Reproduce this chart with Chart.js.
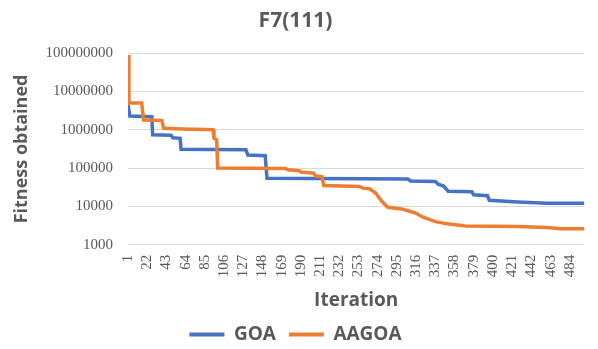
<!DOCTYPE html>
<html>
<head>
<meta charset="utf-8">
<script src="https://cdn.jsdelivr.net/npm/chart.js@4"></script>
<style>
  html, body { margin: 0; padding: 0; background: #fff; }
</style>
</head>
<body>
<canvas id="chart" width="598" height="349"></canvas>
<script>
// best fitness per iteration, stored at the iterations where the curve changes
const goaIter = [1, 3, 27, 28, 48, 50, 58, 59, 130, 132, 151, 153, 307, 310, 337, 340, 346, 351, 377, 379, 394, 396, 427, 459, 500];
const goaFit = [4.5e6, 2.3e6, 2.2e6, 7.4e5, 7.2e5, 6.2e5, 6.0e5, 3.1e5, 3.0e5, 2.2e5, 2.1e5, 5.4e4, 5.2e4, 4.6e4, 4.5e4, 3.8e4, 3.4e4, 2.5e4, 2.4e4, 2.0e4, 1.9e4, 1.45e4, 1.3e4, 1.2e4, 1.2e4];

const aagoaIter = [1, 2, 16, 18, 38, 40, 60, 94, 95, 98, 99, 173, 176, 188, 191, 204, 206, 213, 215, 254, 258, 265, 272, 278, 285, 300, 308, 315, 323, 337, 350, 370, 427, 459, 474, 500];
const aagoaFit = [9e7, 5.0e6, 5.0e6, 1.8e6, 1.75e6, 1.1e6, 1.05e6, 1.0e6, 6e5, 5.5e5, 1.0e5, 9.8e4, 9.0e4, 8.5e4, 7.8e4, 7.4e4, 6.2e4, 6.0e4, 3.5e4, 3.3e4, 3.0e4, 2.9e4, 2.2e4, 1.4e4, 9.5e3, 8.6e3, 7.6e3, 6.8e3, 5.3e3, 4.0e3, 3.5e3, 3.1e3, 3.0e3, 2.8e3, 2.6e3, 2.6e3];

const xTicks = [1, 22, 43, 64, 85, 106, 127, 148, 169, 190, 211, 232, 253, 274, 295, 316, 337, 358, 379, 400, 421, 442, 463, 484];
const yTicks = [1000, 10000, 100000, 1000000, 10000000, 100000000];

const canvas = document.getElementById('chart');
const grey = '#595959';
const boldFont = size => ({ family: 'Open Sans', size: size, weight: 'bold' });
const tickFont = { family: 'Liberation Serif', size: 15 };

const points = (xs, ys) => xs.map((x, i) => ({ x: x, y: ys[i] }));

new Chart(canvas, {
  type: 'line',
  data: {
    datasets: [{
      label: 'GOA',
      data: points(goaIter, goaFit),
      borderColor: '#4472C4',
      backgroundColor: '#4472C4',
      borderWidth: 3.5,
      pointRadius: 0,
      order: 1
    }, {
      label: 'AAGOA',
      data: points(aagoaIter, aagoaFit),
      borderColor: '#ED7D31',
      backgroundColor: '#ED7D31',
      borderWidth: 3.5,
      pointRadius: 0,
      order: 0
    }]
  },
  options: {
    responsive: false,
    animation: false,
    // legend sits a little lower than Chart.js would put it
    layout: { padding: { left: 0, right: 7, top: 0, bottom: -5 } },
    plugins: {
      title: {
        display: true,
        text: 'F7(111)',
        color: grey,
        font: boldFont(21),
        padding: { top: 8, bottom: 20 }
      },
      legend: {
        position: 'bottom',
        labels: {
          color: grey,
          font: boldFont(19),
          boxWidth: 35,
          boxHeight: 4,
          padding: 13,
          sort: (a, b) => a.datasetIndex - b.datasetIndex,
          generateLabels: chart => Chart.defaults.plugins.legend.labels.generateLabels(chart)
            .map(item => Object.assign(item, { lineWidth: 0 }))
        }
      },
      tooltip: { enabled: false }
    },
    scales: {
      x: {
        type: 'linear',
        min: 1,
        max: 500,
        afterBuildTicks: scale => { scale.ticks = xTicks.map(v => ({ value: v })); },
        grid: { display: false, drawTicks: false },
        border: { display: false },
        ticks: {
          color: grey,
          font: tickFont,
          minRotation: 90,
          maxRotation: 90,
          padding: 10,
          autoSkip: false,
          callback: v => String(v)
        },
        title: {
          display: true,
          text: 'Iteration',
          color: grey,
          font: boldFont(19),
          padding: { top: 2, bottom: 0 }
        }
      },
      y: {
        type: 'logarithmic',
        min: 1000,
        max: 100000000,
        afterBuildTicks: scale => { scale.ticks = yTicks.map(v => ({ value: v })); },
        afterFit: scale => { scale.width = 128; },
        grid: { color: '#d9d9d9', lineWidth: 1, drawTicks: false },
        border: { display: false },
        ticks: {
          color: grey,
          font: tickFont,
          padding: 15,
          callback: v => String(v)
        },
        title: {
          display: true,
          text: 'Fitness obtained',
          color: grey,
          font: boldFont(18),
          padding: { top: 11, bottom: 0 }
        }
      }
    }
  }
});
</script>
</body>
</html>
